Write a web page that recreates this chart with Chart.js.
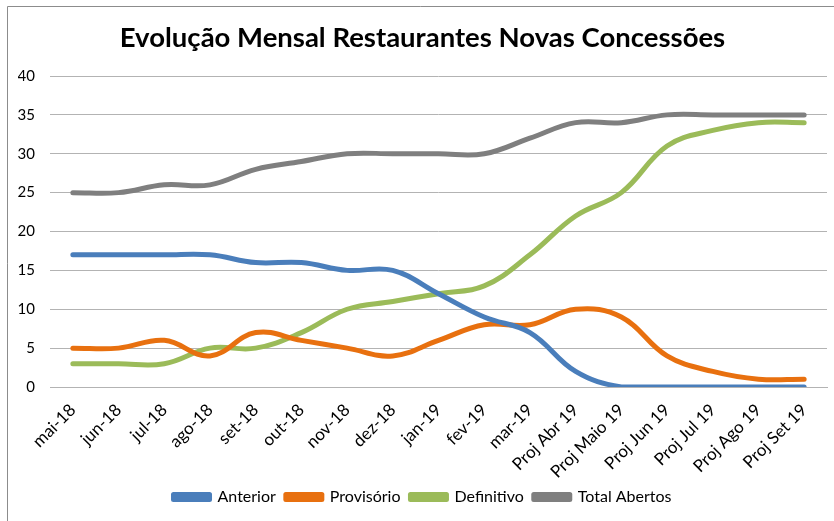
<!DOCTYPE html>
<html>
<head>
<meta charset="utf-8">
<script src="https://cdn.jsdelivr.net/npm/chart.js@4"></script>
<style>
html,body{margin:0;padding:0;background:#fff;}
#wrap{width:834px;height:521px;position:relative;}
</style>
</head>
<body>
<div id="wrap"><canvas id="c"></canvas></div>
<script>
const categories = ["mai-18","jun-18","jul-18","ago-18","set-18","out-18","nov-18","dez-18","jan-19","fev-19","mar-19","Proj Abr 19","Proj Maio 19","Proj Jun 19","Proj Jul 19","Proj Ago 19","Proj Set 19"];
const anterior     = [17,17,17,17,16,16,15,15,12,9,7,2,0,0,0,0,0];
const provisorio   = [5,5,6,4,7,6,5,4,6,8,8,10,9,4,2,1,1];
const definitivo   = [3,3,3,5,5,7,10,11,12,13,17,22,25,31,33,34,34];
const totalAbertos = [25,25,26,26,28,29,30,30,30,30,32,34,34,35,35,35,35];
const yTicks = [0,5,10,15,20,25,30,35,40];

const FONT = "Lato, 'Open Sans', sans-serif";

const borderPlugin = {
  id: 'frame',
  afterDraw(chart) {
    const ctx = chart.ctx;
    ctx.save();
    ctx.strokeStyle = '#8c8c8c';
    ctx.lineWidth = 1;
    ctx.beginPath();
    ctx.moveTo(7.5, 521);
    ctx.lineTo(7.5, 6.5);
    ctx.lineTo(834, 6.5);
    ctx.stroke();
    ctx.restore();
  }
};

function ds(label, data, color) {
  return {
    label, data,
    borderColor: color, backgroundColor: color,
    borderWidth: 5, pointRadius: 0, pointHoverRadius: 0,
    tension: 0.4, borderCapStyle: 'round', borderJoinStyle: 'round', fill: false
  };
}

new Chart(document.getElementById('c'), {
  type: 'line',
  data: {
    labels: categories,
    datasets: [
      ds('Anterior', anterior, '#4a7ebb'),
      ds('Provisório', provisorio, '#e8700f'),
      ds('Definitivo', definitivo, '#9bbb59'),
      ds('Total Abertos', totalAbertos, '#7f7f7f')
    ]
  },
  options: {
    responsive: true,
    maintainAspectRatio: false,
    animation: false,
    layout: { padding: { left: 18, right: 7, top: 0, bottom: 6 } },
    plugins: {
      title: {
        display: true,
        text: 'Evolução Mensal Restaurantes Novas Concessões',
        color: '#000',
        font: { family: FONT, size: 27.5, weight: 'bold' },
        padding: { top: 22, bottom: 21 }
      },
      legend: {
        position: 'bottom',
        labels: {
          color: '#000',
          font: { family: FONT, size: 16 },
          boxWidth: 36, boxHeight: 5, padding: 10
        }
      },
      tooltip: { enabled: false }
    },
    scales: {
      x: {
        offset: true,
        grid: { display: false },
        border: { display: true, color: '#b3b3b3', width: 1 },
        ticks: {
          color: '#000', autoSkip: false, minRotation: 45, maxRotation: 45, padding: 5,
          font: { family: FONT, size: 17 }
        },
        afterFit(scale) { scale.height = 92; }
      },
      y: {
        min: 0, max: 40,
        afterBuildTicks(scale) { scale.ticks = yTicks.map(v => ({ value: v })); },
        grid: { color: '#b3b3b3', lineWidth: 1, drawTicks: false },
        border: { display: false },
        ticks: { color: '#000', padding: 15, font: { family: FONT, size: 15 } },
        afterFit(scale) { scale.width = 32; }
      }
    }
  },
  plugins: [borderPlugin]
});
</script>
</body>
</html>
